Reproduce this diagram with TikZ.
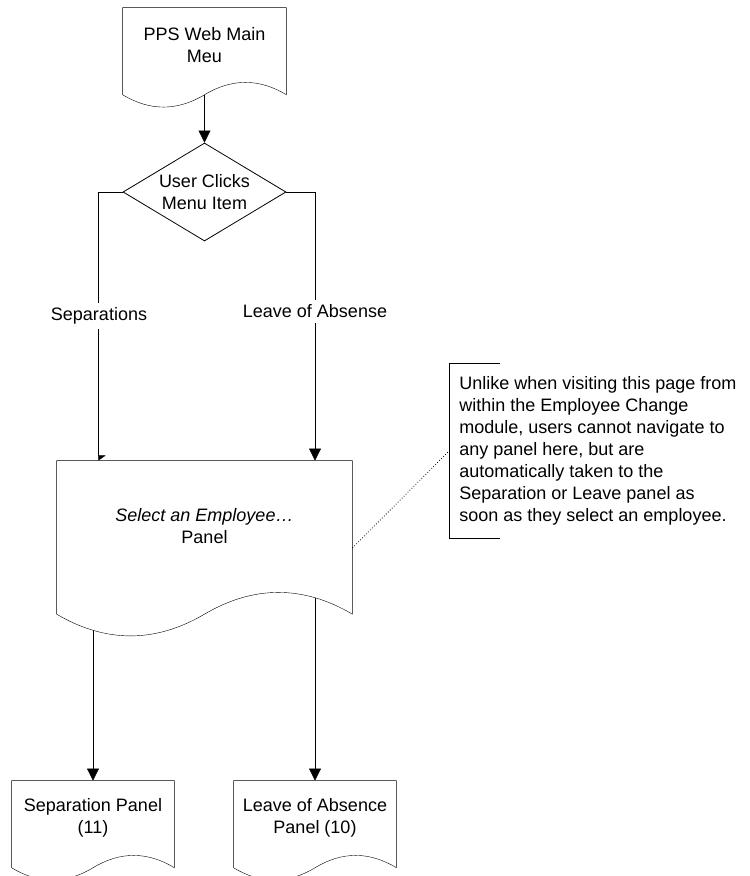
\documentclass[tikz,border=0pt]{standalone}
\usepackage{fontspec}
\setmainfont{Liberation Sans}
\usetikzlibrary{shapes.geometric,arrows.meta,calc}

\pgfdeclarelayer{back}
\pgfsetlayers{back,main}

% document outline with wavy bottom, drawn round a text node
\newcommand\docoutline[1]{%
  \draw[fill=white] let \p1=(#1.north west), \p2=(#1.south east),
      \n1={0.165*(\y1-\y2)}, \n2={\x2-\x1} in
    (\x1,\y2-\n1) -- (\p1) -- (\x2,\y1) -- (\x2,\y2-\n1)
    .. controls (\x2-\n2/6,\y2+\n1/3) and (\x2-\n2/3,\y2+\n1/3) .. (\x1+\n2/2,\y2-\n1)
    coordinate (#1-tail)
    .. controls (\x1+\n2/3,\y2-7*\n1/3) and (\x1+\n2/6,\y2-7*\n1/3) .. (\x1,\y2-\n1)
    -- cycle;}

\begin{document}
\begin{tikzpicture}[x=1pt, y=-1pt, line width=0.8pt,
    >={Triangle[length=12pt,width=12pt]},
    txt/.style={font=\fontsize{18}{22}\selectfont, align=center},
    docbox/.style={txt, minimum width=#1, minimum height=74, inner sep=0pt},
    decision/.style={txt, diamond, draw, fill=white, aspect=1.66, inner sep=0pt,
      minimum width=163, minimum height=98},
    lbl/.style={txt, fill=white, inner sep=5pt},
    note/.style={txt, align=left, anchor=west, minimum height=174, inner xsep=10pt}]
  \useasboundingbox (0,0) rectangle (750,876);

  % Shapes
  \node[docbox=163] (top) at (204.5,45) {PPS Web Main\\Meu};
  \node[decision] (dec) at (204.5,192) {User Clicks\\Menu Item};
  \node[docbox=295, minimum height=131] (main) at (204.5,526.5)
    {\textit{Select an Employee…}\\Panel};
  \node[docbox=162] (sep) at (93,818) {Separation Panel\\(11)};
  \node[docbox=162] (loa) at (315,818) {Leave of Absence\\Panel (10)};

  % Annotation
  \node[note] (note) at (449,451) {Unlike when visiting this page from\\
    within the Employee Change\\module, users cannot navigate to\\
    any panel here, but are\\automatically taken to the\\
    Separation or Leave panel as\\soon as they select an employee.};
  \draw (note.north west) ++(51,0) -- (note.north west) -- (note.south west) -- ++(51,0);
  \draw[dotted] (main.east) ++(0,21.5) -- (note.west);

  % Branch labels
  \node[lbl] (seplbl) at (99,316) {Separations};
  \node[lbl] (loalbl) at (315,311.5) {Leave of Absense};

  \begin{pgfonlayer}{back}
    % Connectors (under the document outlines)
    \draw[-{Triangle[length=5pt,width=14pt,left]}] (dec.west) -| ($(main.north west)+(42,0)$);
    \draw[->] (dec.east) -| (main.north -| loa.north);
    \draw[->] (main.south -| sep.north) -- (sep.north);
    \draw[->] (main.south -| loa.north) -- (loa.north);

    \docoutline{top}
    \docoutline{main}
    \docoutline{sep}
    \docoutline{loa}
    \draw[->] (top-tail) -- (dec.north);
  \end{pgfonlayer}
\end{tikzpicture}
\end{document}
